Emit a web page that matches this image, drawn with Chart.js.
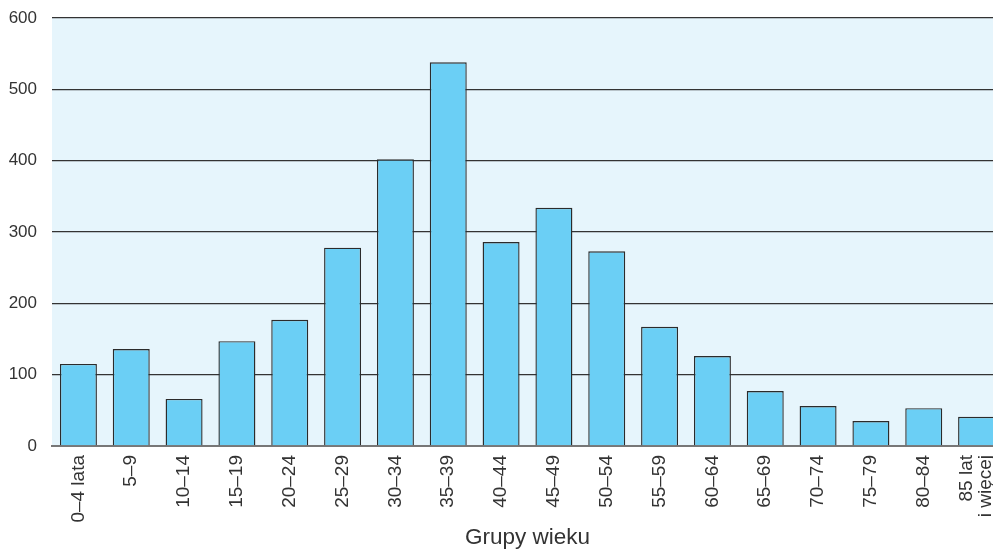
<!DOCTYPE html>
<html>
<head>
<meta charset="utf-8">
<script src="https://cdn.jsdelivr.net/npm/chart.js@4"></script>
<style>
    html, body { margin: 0; padding: 0; background: #fff; overflow: hidden; }
    #wrap { position: relative; width: 1003px; height: 551px; }
</style>
</head>
<body>
<div id="wrap"><canvas id="chart"></canvas></div>
<script>
const grupy = ["0–4 lata", "5–9", "10–14", "15–19", "20–24", "25–29", "30–34", "35–39", "40–44",
    "45–49", "50–54", "55–59", "60–64", "65–69", "70–74", "75–79", "80–84", ["85 lat", "i więcej"]];
const liczby = [115, 136, 66, 147, 177, 278, 402, 538, 286, 334, 273, 167, 126, 77, 56, 35, 53, 41];
const osY = [0, 100, 200, 300, 400, 500, 600];

const ROZMIAR_X = 19;

// tlo obszaru wykresu
const tloPlugin = {
    id: "tlo",
    beforeDraw(chart) {
        const { ctx, chartArea: a } = chart;
        ctx.save();
        ctx.fillStyle = "#e6f5fc";
        ctx.fillRect(a.left, a.top, a.right - a.left, a.bottom - a.top);
        ctx.restore();
    }
};

// wysrodkowanie etykiet wielowierszowych pod slupkiem
const wysrodkujPlugin = {
    id: "wysrodkuj",
    beforeDraw(chart) {
        const items = chart.scales.x.getLabelItems();
        items.forEach(it => {
            if (Array.isArray(it.label) && !it._przesuniete) {
                it.options.translation[0] -= (it.label.length - 1) * ROZMIAR_X / 2;
                it._przesuniete = true;
            }
        });
    }
};

const ctx = document.getElementById("chart").getContext("2d");
new Chart(ctx, {
    type: "bar",
    data: {
        labels: grupy,
        datasets: [{
            data: liczby,
            backgroundColor: "#6bcff5",
            borderColor: "#2b2b2b",
            borderWidth: 1.4,
            categoryPercentage: 1,
            barPercentage: 0.7
        }]
    },
    options: {
        responsive: true,
        maintainAspectRatio: false,
        animation: false,
        layout: { padding: { top: 18, left: 0, right: 0, bottom: 0 } },
        plugins: { legend: { display: false }, tooltip: { enabled: false } },
        scales: {
            x: {
                afterFit(scale) {
                    scale.paddingRight = 0; scale.paddingLeft = 0;
                    scale.paddingTop = 0; scale.paddingBottom = 0;
                    scale.height = 105;
                },
                grid: { display: false },
                border: { display: true, color: "#777", width: 2 },
                ticks: {
                    color: "#333",
                    font: { family: "Liberation Sans", size: ROZMIAR_X, lineHeight: 1.0 },
                    maxRotation: 90,
                    minRotation: 90,
                    autoSkip: false,
                    padding: 1
                },
                title: {
                    display: true,
                    text: "Grupy wieku",
                    color: "#333",
                    font: { family: "Liberation Sans", size: 22.5 },
                    padding: { top: 0, bottom: 0 }
                }
            },
            y: {
                min: 0,
                max: 600,
                afterFit(scale) {
                    scale.width = 52;
                    scale.paddingTop = 0; scale.paddingBottom = 0;
                },
                afterBuildTicks(scale) { scale.ticks = osY.map(v => ({ value: v })); },
                grid: {
                    drawTicks: false,
                    color: ctx => ctx.tick && ctx.tick.value === 0 ? "rgba(0,0,0,0)" : "#333",
                    lineWidth: 1.3
                },
                border: { display: false },
                ticks: {
                    color: "#333",
                    font: { family: "Liberation Sans", size: 17 },
                    padding: 15
                }
            }
        }
    },
    plugins: [tloPlugin, wysrodkujPlugin]
});
</script>
</body>
</html>
